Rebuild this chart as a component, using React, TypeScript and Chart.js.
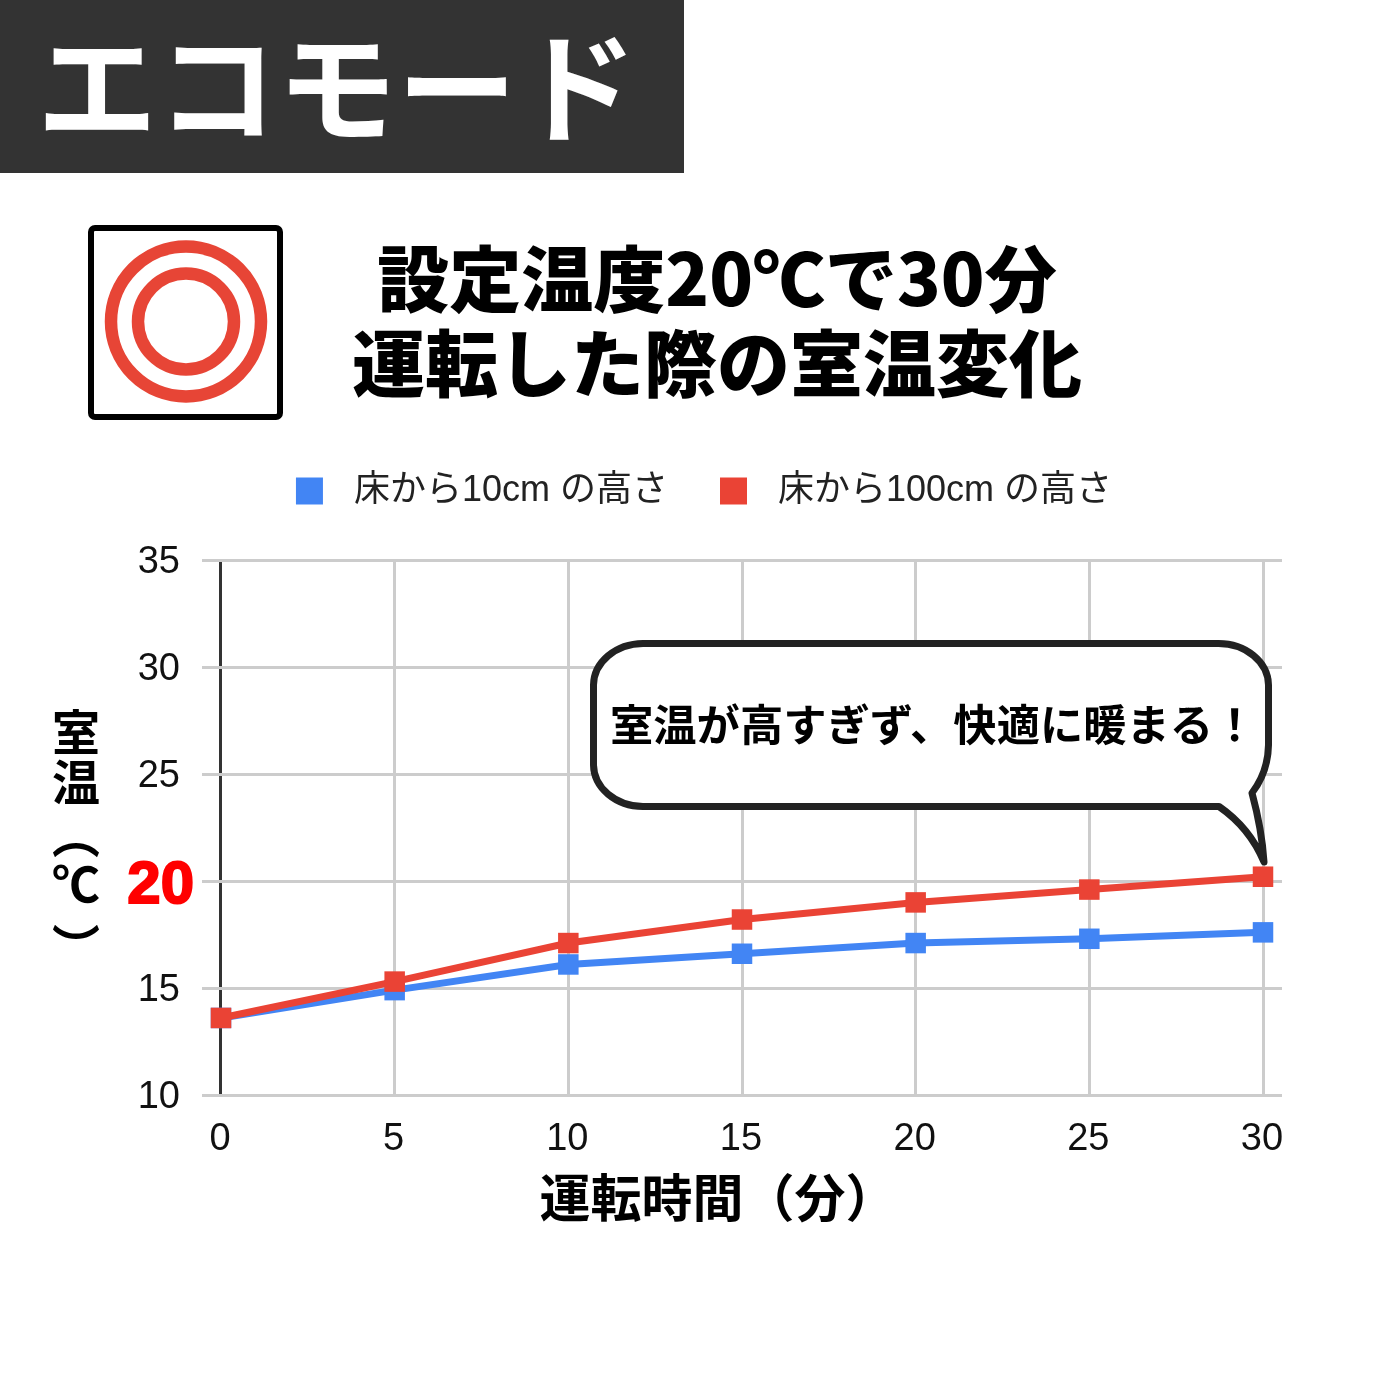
import React, { useEffect, useRef } from "react";
import { Chart, registerables } from "chart.js";

Chart.register(...registerables);

const minutes = [0, 5, 10, 15, 20, 25, 30];
const low10cm = [13.6, 14.9, 16.1, 16.6, 17.1, 17.3, 17.6];
const high100cm = [13.6, 15.3, 17.1, 18.2, 19.0, 19.6, 20.2];
const yTicks = [10, 15, 20, 25, 30, 35];
const seriesNames = [" \u200A床から10cm の高さ", " \u200A床から100cm の高さ"];
const headerText = "エコモード";
const titleLines = ["設定温度20℃で30分", "運転した際の室温変化"];
const titleSizes = [72, 73];
const calloutText = "室温が高すぎず、快適に暖まる！";
const xTitle = "運転時間（分）";
const yTitleChars = ["室", "温", "（", "℃", "）"];
const yTitleGaps = [2, 5, 1, 15, 0];
const redTick = 20;

const BLUE = "#4285F4";
const RED = "#EA4335";
const JP = '"Noto Sans CJK JP", sans-serif';
const LATIN = '"Liberation Sans", "Noto Sans CJK JP", sans-serif';

const legendHeightPlugin = {
  id: "legendHeight",
  beforeLayout(chart: any) {
    const legend = chart.legend;
    if (legend && !legend.__patched) {
      legend.__patched = true;
      const fit = legend.fit;
      legend.fit = function () {
        fit.call(this);
        this.height = 139;
      };
    }
  },
};

const redTickPlugin = {
  id: "redTick",
  afterDraw(chart: any) {
    const ctx = chart.ctx;
    const y = chart.scales.y.getPixelForValue(redTick);
    ctx.save();
    ctx.font = 'bold 60px "Liberation Sans", sans-serif';
    ctx.fillStyle = "#ff0000";
    ctx.strokeStyle = "#ff0000";
    ctx.lineWidth = 2;
    ctx.textAlign = "right";
    ctx.textBaseline = "middle";
    ctx.fillText(String(redTick), 194, y + 5);
    ctx.strokeText(String(redTick), 194, y + 5);
    ctx.restore();
  },
};

export default function App() {
  const ref = useRef<HTMLCanvasElement>(null);
  useEffect(() => {
    const chart = new Chart(ref.current!, {
      type: "line",
      plugins: [legendHeightPlugin, redTickPlugin],
      data: {
        labels: minutes,
        datasets: [
          {
            label: seriesNames[0],
            data: minutes.map((m, i) => ({ x: m, y: low10cm[i] })),
            borderColor: BLUE,
            backgroundColor: BLUE,
            borderWidth: 7,
            pointStyle: "rect",
            pointRadius: 14.5,
            pointBackgroundColor: BLUE,
            pointBorderWidth: 0,
            order: 1,
          },
          {
            label: seriesNames[1],
            data: minutes.map((m, i) => ({ x: m, y: high100cm[i] })),
            borderColor: RED,
            backgroundColor: RED,
            borderWidth: 7,
            pointStyle: "rect",
            pointRadius: 14.5,
            pointBackgroundColor: RED,
            pointBorderWidth: 0,
            order: 0,
          },
        ],
      },
      options: {
        responsive: false,
        animation: false,
        devicePixelRatio: 1,
        layout: { padding: { top: 421, left: 126, right: 118, bottom: 0 } },
        plugins: {
          title: { display: false },
          tooltip: { enabled: false },
          legend: {
            display: true,
            position: "top",
            labels: {
              boxWidth: 27,
              boxHeight: 27,
              padding: 52,
              color: "#222",
              font: { size: 36, family: LATIN },
              sort: (a: any, b: any) => a.datasetIndex - b.datasetIndex,
              generateLabels: (c: any) =>
                Chart.defaults.plugins.legend.labels
                  .generateLabels(c)
                  .map((l: any) => ({ ...l, lineWidth: 0, strokeStyle: "transparent" })),
            },
          },
        },
        scales: {
          x: {
            type: "linear",
            min: -0.547,
            max: 30.547,
            afterFit: (s: any) => {
              s.height = 305;
            },
            afterBuildTicks: (s: any) => {
              s.ticks = minutes.map((v) => ({ value: v }));
            },
            border: { display: false },
            grid: {
              color: (c: any) => (c.tick && c.tick.value === 0 ? "#333333" : "#cccccc"),
              lineWidth: 3,
              drawTicks: false,
            },
            ticks: {
              padding: 22,
              maxRotation: 0,
              labelOffset: -1,
              color: "#111",
              font: { size: 38, family: LATIN },
            },
          },
          y: {
            type: "linear",
            min: 10,
            max: 35,
            afterFit: (s: any) => {
              s.width = 76;
            },
            afterBuildTicks: (s: any) => {
              s.ticks = yTicks.map((v) => ({ value: v }));
            },
            border: { display: false },
            grid: { color: "#cccccc", lineWidth: 3, drawTicks: false },
            ticks: {
              padding: 22,
              labelOffset: 3,
              color: "#111",
              font: { size: 38, family: LATIN },
              callback: (v: any) => (v === redTick ? "" : String(v)),
            },
          },
        },
      },
    } as any);
    return () => chart.destroy();
  }, []);

  const abs = (o: React.CSSProperties): React.CSSProperties => ({ position: "absolute", ...o });

  return (
    <div style={abs({ left: 0, top: 0, width: 1400, height: 1400, background: "#fff", overflow: "hidden" })}>
      <canvas ref={ref} width={1400} height={1400} style={abs({ left: 0, top: 0, width: 1400, height: 1400 })} />
      <div style={abs({ left: 0, top: 0, width: 684, height: 173, background: "#333333" })} />
      <div
        style={abs({
          left: 0, top: -5, width: 674, height: 173, color: "#fff",
          fontFamily: JP, fontWeight: 700, fontSize: 120, lineHeight: "173px",
          textAlign: "center", whiteSpace: "nowrap",
        })}
      >
        {headerText}
      </div>
      <svg width={1400} height={1400} style={abs({ left: 0, top: 0 })}>
        <rect x={91} y={228} width={189} height={189} rx={4} fill="#fff" stroke="#000" strokeWidth={6} />
        <circle cx={186} cy={321.5} r={75} fill="none" stroke="#E74536" strokeWidth={12.5} />
        <circle cx={186} cy={321.5} r={48} fill="none" stroke="#E74536" strokeWidth={12.5} />
        <path
          d="M643 643.5 H1218 A50 42 0 0 1 1268.5 685 V745 Q1268 772 1252 793 Q1262 830 1264 862 Q1250 828 1219 806.5 H643 A50 42 0 0 1 593.5 765 V685 A50 42 0 0 1 643 643.5 Z"
          fill="#fff" stroke="#222" strokeWidth={7} strokeLinejoin="round"
        />
      </svg>
      <div
        style={abs({
          left: 300, top: 233, width: 834, textAlign: "center", fontFamily: JP, fontWeight: 900,
          lineHeight: "84px", color: "#000", whiteSpace: "nowrap",
        })}
      >
        {titleLines.map((l, i) => (
          <div key={l} style={{ fontSize: titleSizes[i] }}>
            {l}
          </div>
        ))}
      </div>
      <div
        style={abs({
          left: 610, top: 692, width: 660, fontFamily: JP, fontWeight: 700, fontSize: 43.3,
          lineHeight: "60px", color: "#000", whiteSpace: "nowrap",
        })}
      >
        {calloutText}
      </div>
      <div
        style={abs({
          left: 418, top: 1162, width: 600, textAlign: "center", fontFamily: JP, fontWeight: 700,
          fontSize: 51, lineHeight: "66px", color: "#000", whiteSpace: "nowrap",
        })}
      >
        {xTitle}
      </div>
      <div
        style={abs({
          left: 46, top: 708, writingMode: "vertical-rl", fontFamily: JP, fontWeight: 700,
          fontSize: 48, lineHeight: "60px", color: "#000", whiteSpace: "nowrap",
        })}
      >
        {yTitleChars.map((ch, i) => (
          <span key={ch} style={{ letterSpacing: yTitleGaps[i] }}>
            {ch}
          </span>
        ))}
      </div>
    </div>
  );
}
